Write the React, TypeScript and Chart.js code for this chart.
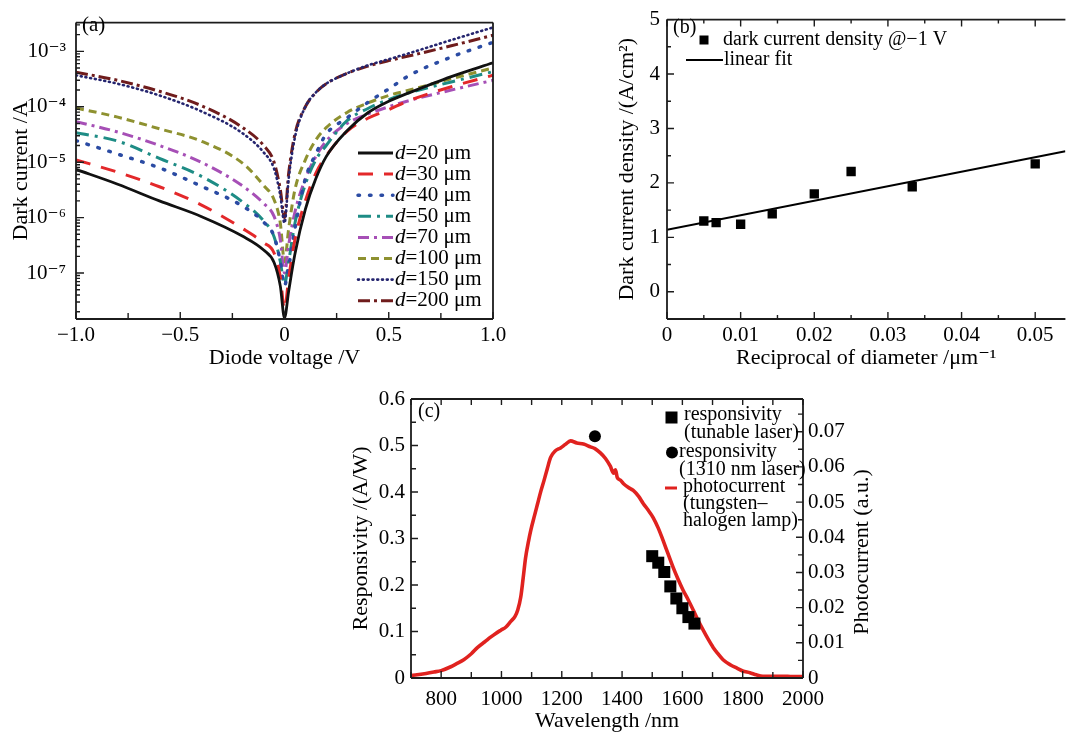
import React, { useEffect, useRef } from 'react';
import { Chart, registerables } from 'chart.js';

Chart.register(...registerables);

const FONT = "'Liberation Serif', 'Times New Roman', 'DejaVu Serif', serif";
Chart.defaults.font.family = FONT;
Chart.defaults.color = '#000';

// ---------------- Panel (a): dark current vs diode voltage ----------------
const VOLTAGE = [-1, -0.8, -0.6, -0.4, -0.2, -0.1, -0.05, -0.02, 0, 0.02, 0.05, 0.1, 0.15, 0.2, 0.3, 0.4, 0.5, 0.6, 0.8, 1];
const DIAMETERS = [20, 30, 40, 50, 70, 100, 150, 200];
const I_D20 = [7.4e-6, 4.0e-6, 2.0e-6, 1.05e-6, 4.6e-7, 2.6e-7, 1.55e-7, 5.8e-8, 1.55e-8, 4.7e-8, 2.2e-7, 1.4e-6, 5.0e-6, 1.26e-5, 3.7e-5, 7.8e-5, 1.26e-4, 1.8e-4, 3.5e-4, 6.2e-4];
const I_D30 = [1.1e-5, 6.6e-6, 3.6e-6, 1.7e-6, 6.3e-7, 3.5e-7, 2.3e-7, 8.5e-8, 2.2e-8, 8e-8, 4e-7, 2e-6, 6.3e-6, 1.3e-5, 3.6e-5, 6.2e-5, 8.9e-5, 1.3e-4, 2.3e-4, 3.7e-4];
const I_D40 = [2.45e-5, 1.4e-5, 7.9e-6, 3.7e-6, 1.6e-6, 8.3e-7, 4.6e-7, 1.6e-7, 6e-8, 1.3e-7, 6.3e-7, 5e-6, 1.4e-5, 3.2e-5, 6.3e-5, 1.2e-4, 2.1e-4, 3.7e-4, 7.9e-4, 1.45e-3];
const I_D50 = [3.4e-5, 2.4e-5, 1.17e-5, 5.6e-6, 1.9e-6, 8.7e-7, 4.5e-7, 1.6e-7, 6.3e-8, 1.6e-7, 7.9e-7, 4e-6, 1.1e-5, 2e-5, 5.6e-5, 9.3e-5, 1.35e-4, 1.8e-4, 2.8e-4, 4.3e-4];
const I_D70 = [5.4e-5, 3.5e-5, 2.0e-5, 1.0e-5, 3.7e-6, 1.8e-6, 1.05e-6, 4e-7, 1e-7, 3.2e-7, 1.26e-6, 5e-6, 1.26e-5, 2.4e-5, 5e-5, 7.4e-5, 1e-4, 1.3e-4, 2e-4, 3e-4];
const I_D100 = [9.5e-5, 6.5e-5, 4e-5, 2.4e-5, 9.5e-6, 3.8e-6, 2.1e-6, 7.9e-7, 1.6e-7, 6.3e-7, 3.2e-6, 1.1e-5, 2.5e-5, 4.2e-5, 7.9e-5, 1.17e-4, 1.6e-4, 2e-4, 3.2e-4, 5e-4];
const I_D150 = [3.7e-4, 2.6e-4, 1.6e-4, 8.3e-5, 3.3e-5, 1.5e-5, 7.6e-6, 2.5e-6, 8e-7, 5e-6, 2.8e-5, 1e-4, 1.8e-4, 2.6e-4, 4e-4, 5.6e-4, 7.2e-4, 9.3e-4, 1.6e-3, 2.7e-3];
const I_D200 = [4.2e-4, 3.0e-4, 1.9e-4, 1.05e-4, 4.2e-5, 2e-5, 1e-5, 3.2e-6, 1e-6, 6.3e-6, 3.2e-5, 1e-4, 1.8e-4, 2.6e-4, 4e-4, 5.4e-4, 6.8e-4, 8.3e-4, 1.26e-3, 1.95e-3];
const A_CURRENTS = [I_D20, I_D30, I_D40, I_D50, I_D70, I_D100, I_D150, I_D200];

const A_X_TICKS = [-1, -0.75, -0.5, -0.25, 0, 0.25, 0.5, 0.75, 1];
const A_X_LABELED = [-1, -0.5, 0, 0.5, 1];
const A_Y_DECADES = [1e-8, 1e-7, 1e-6, 1e-5, 1e-4, 1e-3];
const A_Y_LABELED = [1e-7, 1e-6, 1e-5, 1e-4, 1e-3];
const A_Y_LABELS = ['10\u207B\u2077', '10\u207B\u2076', '10\u207B\u2075', '10\u207B\u2074', '10\u207B\u00B3'];

const A_STYLES = [
  { color: '#111111', width: 2.8, dash: [], cap: 'butt' },
  { color: '#e3282a', width: 3, dash: [15, 11], cap: 'butt' },
  { color: '#2b4ba3', width: 3.5, dash: [1.5, 10], cap: 'round' },
  { color: '#1e8c85', width: 3, dash: [13, 6, 3, 6], cap: 'butt' },
  { color: '#a64fb6', width: 3, dash: [11, 5, 3, 5], cap: 'butt' },
  { color: '#8e9130', width: 3, dash: [8, 5], cap: 'butt' },
  { color: '#25256f', width: 2.6, dash: [1, 3.8], cap: 'round' },
  { color: '#6f1c1c', width: 3, dash: [12, 4, 3, 4], cap: 'butt' },
];

// ---------------- Panel (b): dark current density vs 1/d ----------------
const RECIP_DIAMETER = [0.005, 0.00667, 0.01, 0.01429, 0.02, 0.025, 0.0333, 0.05];
const DENSITY = [1.30, 1.27, 1.24, 1.43, 1.80, 2.21, 1.93, 2.35];
const FIT_X = [0, 0.0541];
const FIT_Y = [1.14, 2.58];
const B_X_TICKS = [0, 0.005, 0.01, 0.015, 0.02, 0.025, 0.03, 0.035, 0.04, 0.045, 0.05];
const B_X_LABELED = [0, 0.01, 0.02, 0.03, 0.04, 0.05];
const B_Y_TICKS = [0, 0.5, 1, 1.5, 2, 2.5, 3, 3.5, 4, 4.5, 5];
const B_Y_LABELED = [0, 1, 2, 3, 4, 5];

// ---------------- Panel (c): responsivity / photocurrent ----------------
const C_WAVELENGTH = [700, 720, 750, 776, 800, 832, 850, 875, 900, 921, 945, 964, 980, 998, 1015, 1031, 1045, 1054, 1064, 1072, 1080, 1090, 1097, 1110, 1120, 1130, 1141, 1152, 1163, 1178, 1196, 1212, 1229, 1250, 1272, 1295, 1310, 1328, 1345, 1361, 1372, 1378, 1384, 1395, 1404, 1420, 1437, 1455, 1470, 1485, 1503, 1520, 1536, 1552, 1569, 1585, 1602, 1620, 1636, 1652, 1669, 1685, 1702, 1718, 1735, 1760, 1781, 1800, 1824, 1845, 1867, 1900, 1933, 1965, 2000];
const C_PHOTOCURRENT = [0.0007, 0.0009, 0.0013, 0.0017, 0.0021, 0.0032, 0.0040, 0.0052, 0.0069, 0.0087, 0.0103, 0.0116, 0.0126, 0.0136, 0.0145, 0.0161, 0.0175, 0.0193, 0.0230, 0.0284, 0.0342, 0.0390, 0.0419, 0.0463, 0.0496, 0.0529, 0.0561, 0.0595, 0.0627, 0.0645, 0.0654, 0.0664, 0.0674, 0.0668, 0.0665, 0.0657, 0.0652, 0.0640, 0.0624, 0.0602, 0.0582, 0.0592, 0.0570, 0.0562, 0.0553, 0.0542, 0.0533, 0.0516, 0.0496, 0.0479, 0.0456, 0.0426, 0.0391, 0.0354, 0.0315, 0.0282, 0.0250, 0.0221, 0.0193, 0.0164, 0.0136, 0.0111, 0.0087, 0.0069, 0.0052, 0.0037, 0.0028, 0.0020, 0.0015, 0.0009, 0.0005, 0.0005, 0.0005, 0.0004, 0.0004];
const TUNABLE_WAVELENGTH = [1500, 1520, 1540, 1560, 1580, 1600, 1620, 1640];
const TUNABLE_RESP = [0.262, 0.248, 0.228, 0.197, 0.171, 0.150, 0.131, 0.117];
const LASER1310_WAVELENGTH = [1310];
const LASER1310_RESP = [0.52];
const C_X_TICKS = [700, 800, 900, 1000, 1100, 1200, 1300, 1400, 1500, 1600, 1700, 1800, 1900, 2000];
const C_X_LABELED = [800, 1000, 1200, 1400, 1600, 1800, 2000];
const C_Y_TICKS = [0, 0.05, 0.1, 0.15, 0.2, 0.25, 0.3, 0.35, 0.4, 0.45, 0.5, 0.55, 0.6];
const C_Y_LABELED = [0, 0.1, 0.2, 0.3, 0.4, 0.5, 0.6];
const C_Y1_TICKS = [0, 0.005, 0.01, 0.015, 0.02, 0.025, 0.03, 0.035, 0.04, 0.045, 0.05, 0.055, 0.06, 0.065, 0.07, 0.075];
const C_Y1_LABELED = [0, 0.01, 0.02, 0.03, 0.04, 0.05, 0.06, 0.07];

// ---------------- helpers ----------------
const tickFont = { family: FONT, size: 21 };
const titleFont = { family: FONT, size: 22 };

const setTicks = (list: number[]) => (s: any) => {
  s.ticks = list.map((v) => ({ value: v }));
};

const fixed = (labeled: number[], digits: number) => (v: number) =>
  labeled.includes(v) ? (v === 0 ? '0' : (v < 0 ? '\u2212' : '') + Math.abs(v).toFixed(digits)) : '';

function baseAxis(extra: any) {
  return {
    grid: { display: false, drawTicks: false },
    border: { display: false },
    ...extra,
    ticks: { autoSkip: false, maxRotation: 0, minRotation: 0, color: '#000', font: tickFont, ...(extra.ticks || {}) },
  };
}

type TickSpec = { scale: string; side: 'left' | 'right' | 'top' | 'bottom'; major: number; minor: number };

function decoPlugin(id: string, border: string[], ticks: TickSpec[], extra: (ctx: any, chart: any) => void) {
  return {
    id,
    afterDraw(chart: any) {
      const ctx = chart.ctx;
      const a = chart.chartArea;
      ctx.save();
      ctx.setLineDash([]);
      ctx.lineCap = 'butt';
      ctx.strokeStyle = '#1c1c1c';
      ctx.lineWidth = 1.4;
      ctx.beginPath();
      for (const t of ticks) {
        const s = chart.scales[t.scale];
        for (const tk of s.ticks) {
          const p = s.getPixelForValue(tk.value);
          const len = tk.label ? t.major : t.minor;
          if (t.side === 'left' || t.side === 'right') {
            if (p < a.top - 1 || p > a.bottom + 1) continue;
            const x0 = t.side === 'left' ? a.left : a.right;
            const dir = t.side === 'left' ? 1 : -1;
            ctx.moveTo(x0, p);
            ctx.lineTo(x0 + dir * len, p);
          } else {
            if (p < a.left - 1 || p > a.right + 1) continue;
            const y0 = t.side === 'bottom' ? a.bottom : a.top;
            const dir = t.side === 'bottom' ? -1 : 1;
            ctx.moveTo(p, y0);
            ctx.lineTo(p, y0 + dir * len);
          }
        }
      }
      ctx.stroke();
      ctx.lineWidth = 1.8;
      ctx.beginPath();
      if (border.includes('top')) { ctx.moveTo(a.left, a.top); ctx.lineTo(a.right, a.top); }
      if (border.includes('bottom')) { ctx.moveTo(a.left, a.bottom); ctx.lineTo(a.right, a.bottom); }
      if (border.includes('left')) { ctx.moveTo(a.left, a.top); ctx.lineTo(a.left, a.bottom); }
      if (border.includes('right')) { ctx.moveTo(a.right, a.top); ctx.lineTo(a.right, a.bottom); }
      ctx.stroke();
      extra(ctx, chart);
      ctx.restore();
    },
  };
}

// ---------------- chart (a) ----------------
function buildA() {
  const logTicks: number[] = [];
  for (const d of A_Y_DECADES) {
    for (let m = 1; m <= 9; m++) {
      const v = m === 1 ? d : d * m;
      if (v >= 1.48e-8 && v <= 3.3e-3) logTicks.push(v);
    }
  }
  const legendA = (ctx: any) => {
    ctx.textAlign = 'left';
    ctx.textBaseline = 'middle';
    ctx.fillStyle = '#000';
    ctx.font = `21px ${FONT}`;
    ctx.fillText('(a)', 82, 25);
    A_STYLES.forEach((st, i) => {
      const y = 153 + i * 21.1;
      ctx.save();
      ctx.strokeStyle = st.color;
      ctx.lineWidth = st.width;
      ctx.setLineDash(st.dash);
      ctx.lineCap = st.cap;
      ctx.beginPath();
      ctx.moveTo(358, y);
      ctx.lineTo(393, y);
      ctx.stroke();
      ctx.restore();
      ctx.font = `italic 21px ${FONT}`;
      ctx.fillText('d', 395, y);
      const w = ctx.measureText('d').width;
      ctx.font = `21px ${FONT}`;
      ctx.fillText(`=${DIAMETERS[i]} \u03BCm`, 395 + w, y);
    });
  };
  return {
    type: 'line',
    data: {
      datasets: A_CURRENTS.map((vals, i) => ({
        label: `d=${DIAMETERS[i]} \u03BCm`,
        data: VOLTAGE.map((v, j) => ({ x: v, y: vals[j] })),
        borderColor: A_STYLES[i].color,
        borderWidth: A_STYLES[i].width,
        borderDash: A_STYLES[i].dash,
        borderCapStyle: A_STYLES[i].cap,
        pointRadius: 0,
        fill: false,
        cubicInterpolationMode: 'monotone',
      })),
    },
    options: {
      animation: false,
      responsive: true,
      maintainAspectRatio: false,
      layout: { padding: { top: 10, right: 43, left: 0, bottom: 0 } },
      plugins: { legend: { display: false }, tooltip: { enabled: false } },
      scales: {
        x: baseAxis({
          type: 'linear', min: -1, max: 1,
          afterBuildTicks: setTicks(A_X_TICKS),
          afterFit: (s: any) => { s.height = 53; },
          ticks: { padding: 4, callback: fixed(A_X_LABELED, 1) },
          title: { display: true, text: 'Diode voltage /V', font: titleFont, color: '#000', padding: { top: 0, bottom: 1 } },
        }),
        y: baseAxis({
          type: 'logarithmic', min: 1.48e-8, max: 3.3e-3,
          afterBuildTicks: setTicks(logTicks),
          afterFit: (s: any) => { s.width = 76; },
          ticks: {
            padding: 10,
            callback: (v: number) => {
              const i = A_Y_LABELED.indexOf(v);
              return i >= 0 ? A_Y_LABELS[i] : '';
            },
          },
          title: { display: true, text: 'Dark current /A', font: titleFont, color: '#000', padding: { top: 8, bottom: 0 } },
        }),
      },
    },
    plugins: [
      decoPlugin('decoA', ['top', 'bottom', 'left', 'right'], [
        { scale: 'y', side: 'left', major: 8, minor: 4 },
        { scale: 'x', side: 'bottom', major: 7, minor: 6 },
      ], legendA),
    ],
  };
}

// ---------------- chart (b) ----------------
function buildB() {
  const legendB = (ctx: any) => {
    ctx.textAlign = 'left';
    ctx.textBaseline = 'middle';
    ctx.fillStyle = '#000';
    ctx.font = `20px ${FONT}`;
    ctx.fillText('(b)', 113, 28);
    ctx.fillRect(144 - 4.5, 40 - 4.5, 9, 9);
    ctx.fillText('dark current density @\u22121 V', 163, 40);
    ctx.strokeStyle = '#000';
    ctx.lineWidth = 2;
    ctx.beginPath();
    ctx.moveTo(126, 60);
    ctx.lineTo(163, 60);
    ctx.stroke();
    ctx.fillText('linear fit', 164, 60);
  };
  return {
    type: 'line',
    data: {
      datasets: [
        {
          label: 'dark current density @\u22121 V',
          data: RECIP_DIAMETER.map((x, i) => ({ x, y: DENSITY[i] })),
          showLine: false,
          pointStyle: 'rect',
          pointRadius: 6.6,
          pointBackgroundColor: '#000',
          pointBorderColor: '#000',
          pointBorderWidth: 0,
        },
        {
          label: 'linear fit',
          data: FIT_X.map((x, i) => ({ x, y: FIT_Y[i] })),
          borderColor: '#000',
          borderWidth: 2,
          pointRadius: 0,
          fill: false,
        },
      ],
    },
    options: {
      animation: false,
      responsive: true,
      maintainAspectRatio: false,
      layout: { padding: { top: 14, right: 0, left: 0, bottom: 0 } },
      plugins: { legend: { display: false }, tooltip: { enabled: false } },
      scales: {
        x: baseAxis({
          type: 'linear', min: 0, max: 0.0541,
          afterBuildTicks: setTicks(B_X_TICKS),
          afterFit: (s: any) => { s.height = 53; },
          ticks: { padding: 4, callback: fixed(B_X_LABELED, 2) },
          title: { display: true, text: 'Reciprocal of diameter /\u03BCm\u207B\u00B9', font: titleFont, color: '#000', padding: { top: 0, bottom: 1 } },
        }),
        y: baseAxis({
          type: 'linear', min: -0.5, max: 5,
          afterBuildTicks: setTicks(B_Y_TICKS),
          afterFit: (s: any) => { s.width = 107; },
          ticks: { padding: 7, callback: fixed(B_Y_LABELED, 0) },
          title: { display: true, text: 'Dark current density /(A/cm\u00B2)', font: titleFont, color: '#000', padding: { top: 54, bottom: 0 } },
        }),
      },
    },
    plugins: [
      decoPlugin('decoB', ['top', 'bottom', 'left'], [
        { scale: 'y', side: 'left', major: 7, minor: 4 },
        { scale: 'x', side: 'bottom', major: 7, minor: 4 },
        { scale: 'x', side: 'top', major: 7, minor: 4 },
      ], legendB),
    ],
  };
}

// ---------------- chart (c) ----------------
function buildC() {
  const legendC = (ctx: any) => {
    ctx.textAlign = 'left';
    ctx.textBaseline = 'middle';
    ctx.fillStyle = '#000';
    ctx.font = `20px ${FONT}`;
    ctx.fillText('(c)', 78, 32);
    ctx.fillRect(331.5 - 6, 37.5 - 6, 12, 12);
    ctx.fillText('responsivity', 344, 35);
    ctx.fillText('(tunable laser)', 344, 53);
    ctx.beginPath();
    ctx.arc(332, 72.5, 6, 0, Math.PI * 2);
    ctx.fill();
    ctx.fillText('responsivity', 339, 72);
    ctx.fillText('(1310 nm laser)', 339, 90);
    ctx.strokeStyle = '#e0221f';
    ctx.lineWidth = 3;
    ctx.beginPath();
    ctx.moveTo(325, 108);
    ctx.lineTo(337, 108);
    ctx.stroke();
    ctx.fillText('photocurrent', 343, 107);
    ctx.fillText('(tungsten\u2013', 343, 124);
    ctx.fillText('halogen lamp)', 343, 141);
    ctx.save();
    ctx.translate(522, 172);
    ctx.rotate(-Math.PI / 2);
    ctx.textAlign = 'center';
    ctx.font = `22px ${FONT}`;
    ctx.fillText('Photocurrent (a.u.)', 0, 0);
    ctx.restore();
  };
  return {
    type: 'line',
    data: {
      datasets: [
        {
          label: 'responsivity (tunable laser)',
          data: TUNABLE_WAVELENGTH.map((x, i) => ({ x, y: TUNABLE_RESP[i] })),
          yAxisID: 'y',
          showLine: false,
          pointStyle: 'rect',
          pointRadius: 8.5,
          pointBackgroundColor: '#000',
          pointBorderColor: '#000',
          pointBorderWidth: 0,
        },
        {
          label: 'responsivity (1310 nm laser)',
          data: LASER1310_WAVELENGTH.map((x, i) => ({ x, y: LASER1310_RESP[i] })),
          yAxisID: 'y',
          showLine: false,
          pointStyle: 'circle',
          pointRadius: 6,
          pointBackgroundColor: '#000',
          pointBorderColor: '#000',
          pointBorderWidth: 0,
        },
        {
          label: 'photocurrent (tungsten-halogen lamp)',
          data: C_WAVELENGTH.map((x, i) => ({ x, y: C_PHOTOCURRENT[i] })),
          yAxisID: 'y1',
          borderColor: '#e0221f',
          borderWidth: 3.6,
          pointRadius: 0,
          fill: false,
          cubicInterpolationMode: 'monotone',
        },
      ],
    },
    options: {
      animation: false,
      responsive: true,
      maintainAspectRatio: false,
      layout: { padding: { top: 19, right: 0, left: 0, bottom: 0 } },
      plugins: { legend: { display: false }, tooltip: { enabled: false } },
      scales: {
        x: baseAxis({
          type: 'linear', min: 700, max: 2000,
          afterBuildTicks: setTicks(C_X_TICKS),
          afterFit: (s: any) => { s.height = 56; },
          ticks: { padding: 9, callback: (v: number) => (C_X_LABELED.includes(v) ? String(v) : '') },
          title: { display: true, text: 'Wavelength /nm', font: titleFont, color: '#000', padding: { top: 0, bottom: 0 } },
        }),
        y: baseAxis({
          type: 'linear', position: 'left', min: 0, max: 0.6,
          afterBuildTicks: setTicks(C_Y_TICKS),
          afterFit: (s: any) => { s.width = 71; },
          ticks: { padding: 6, callback: fixed(C_Y_LABELED, 1) },
          title: { display: true, text: 'Responsivity /(A/W)', font: titleFont, color: '#000', padding: { top: 8, bottom: 0 } },
        }),
        y1: baseAxis({
          type: 'linear', position: 'right', min: 0, max: 0.0793,
          afterBuildTicks: setTicks(C_Y1_TICKS),
          afterFit: (s: any) => { s.width = 97; },
          ticks: { padding: 5, callback: fixed(C_Y1_LABELED, 2) },
        }),
      },
    },
    plugins: [
      decoPlugin('decoC', ['top', 'bottom', 'left', 'right'], [
        { scale: 'y', side: 'left', major: 7, minor: 5 },
        { scale: 'y1', side: 'right', major: 7, minor: 5 },
        { scale: 'x', side: 'bottom', major: 7, minor: 6 },
        { scale: 'x', side: 'top', major: 6, minor: 6 },
      ], legendC),
    ],
  };
}

function ChartBox({ left, top, width, height, build }: any) {
  const ref = useRef<HTMLCanvasElement>(null);
  useEffect(() => {
    const chart = new Chart(ref.current as HTMLCanvasElement, build() as any);
    return () => chart.destroy();
  }, []);
  return (
    <div style={{ position: 'absolute', left, top, width, height }}>
      <canvas ref={ref} />
    </div>
  );
}

export default function App() {
  return (
    <div style={{ position: 'fixed', left: 0, top: 0, width: 1072, height: 734, background: '#fff', overflow: 'hidden' }}>
      <ChartBox left={0} top={0} width={536} height={372} build={buildA} />
      <ChartBox left={560} top={0} width={512} height={372} build={buildB} />
      <ChartBox left={340} top={380} width={560} height={354} build={buildC} />
    </div>
  );
}
